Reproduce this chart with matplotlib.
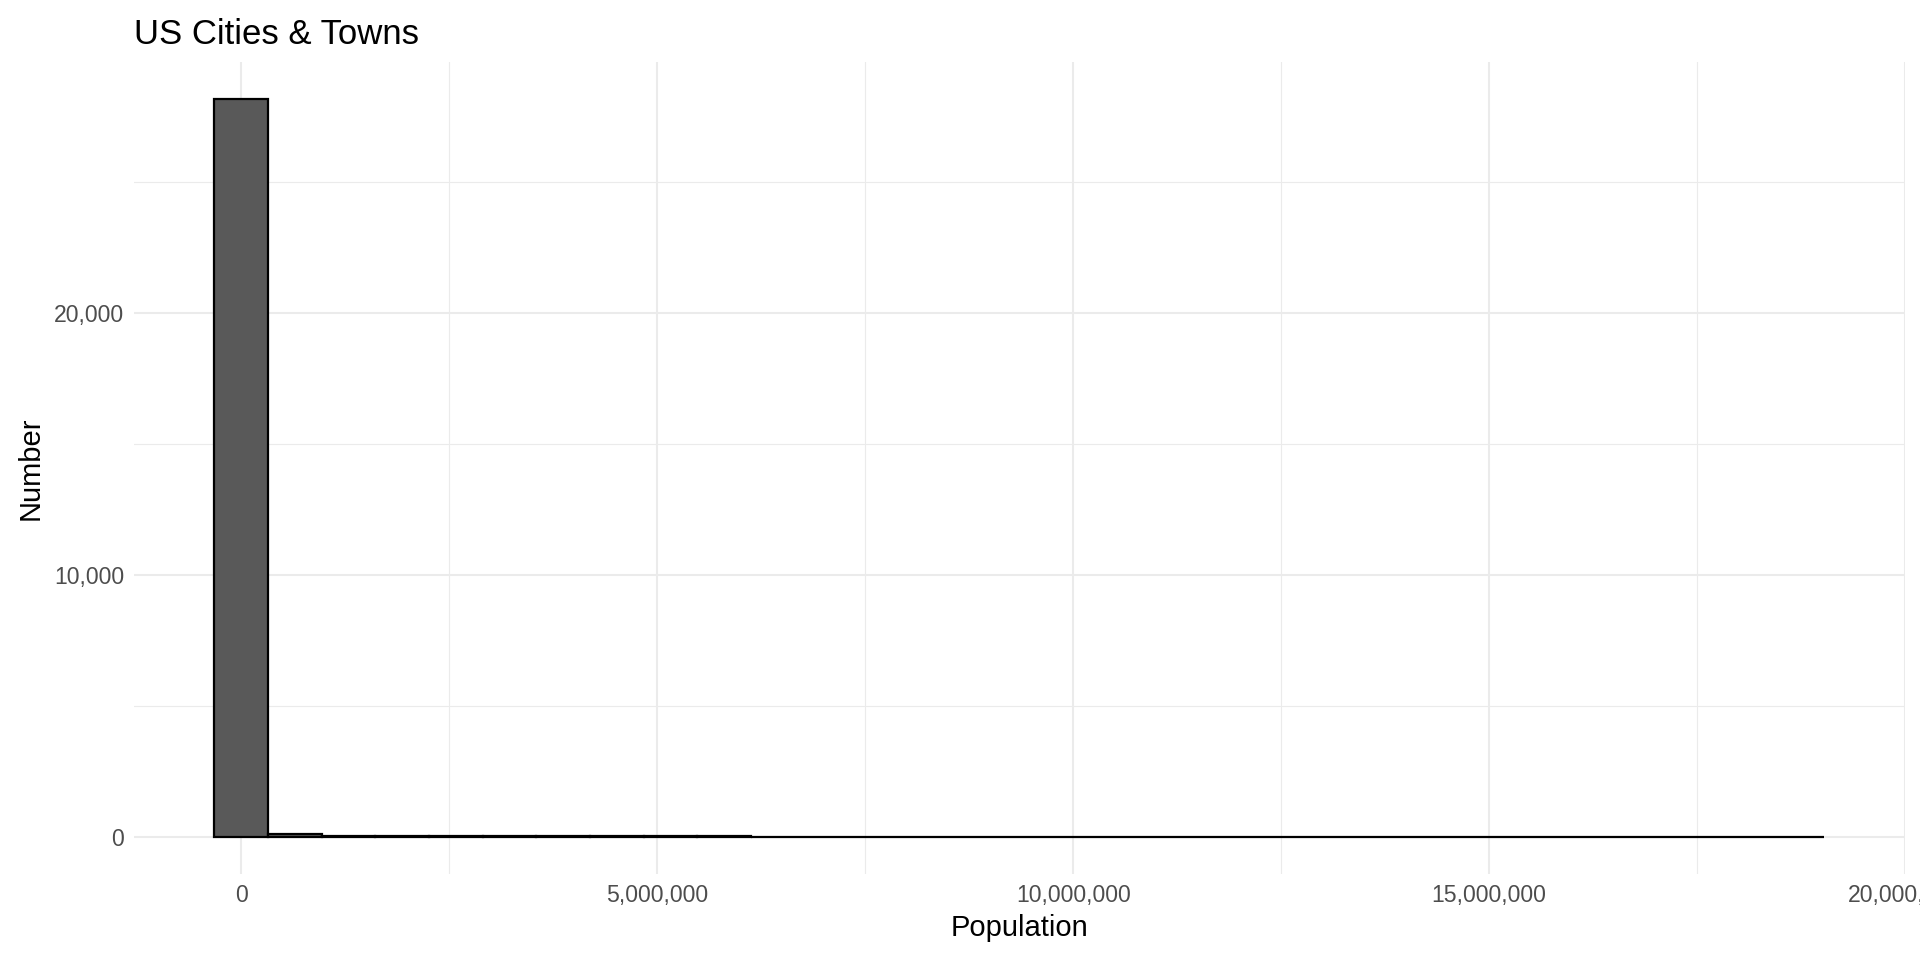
import matplotlib.pyplot as plt
import numpy as np
from matplotlib.ticker import FuncFormatter, MultipleLocator

plt.rcParams["font.family"] = ["Liberation Sans", "DejaVu Sans"]

# histogram of town populations, 30 bins
bin_start = -322_500
bin_width = 645_000
counts = [28170, 110, 40, 38, 36, 35, 34, 33, 32, 30,
          0, 0, 0, 0, 0, 0, 0, 0, 0, 0,
          0, 0, 0, 0, 0, 0, 0, 0, 0, 1]

x_ticks = [0, 5_000_000, 10_000_000, 15_000_000, 20_000_000]
y_ticks = [0, 10_000, 20_000]

edges = bin_start + bin_width * np.arange(len(counts))

fig = plt.figure(figsize=(19.2, 9.6), dpi=100)
ax = fig.add_axes([0.0698, 0.0896, 0.9922 - 0.0698, 0.935 - 0.0896])

ax.bar(edges, counts, width=bin_width, align="edge",
       color="#595959", edgecolor="black", linewidth=1.6, zorder=3)

span = len(counts) * bin_width
ax.set_xlim(bin_start - 0.05 * span, bin_start + span + 0.05 * span)
ymax = max(counts)
ax.set_ylim(-0.05 * ymax, ymax * 1.05)

ax.set_xticks(x_ticks)
ax.set_yticks(y_ticks)
ax.xaxis.set_minor_locator(MultipleLocator(2_500_000))
ax.yaxis.set_minor_locator(MultipleLocator(5_000))
fmt = FuncFormatter(lambda v, p: f"{int(v):,}")
ax.xaxis.set_major_formatter(fmt)
ax.yaxis.set_major_formatter(fmt)

ax.grid(True, which="major", color="#EBEBEB", linewidth=1.5, zorder=0)
ax.grid(True, which="minor", color="#EBEBEB", linewidth=0.8, zorder=0)
for s in ax.spines.values():
    s.set_visible(False)
ax.tick_params(which="both", length=0)
ax.tick_params(axis="both", labelsize=16.6, labelcolor="#4D4D4D", pad=7)

ax.set_xlabel("Population", fontsize=21, labelpad=5)
ax.set_ylabel("Number", fontsize=21, labelpad=7)
ax.set_title("US Cities & Towns", fontsize=25, loc="left", pad=13)

fig.savefig("out.png", dpi=100, facecolor="white")
